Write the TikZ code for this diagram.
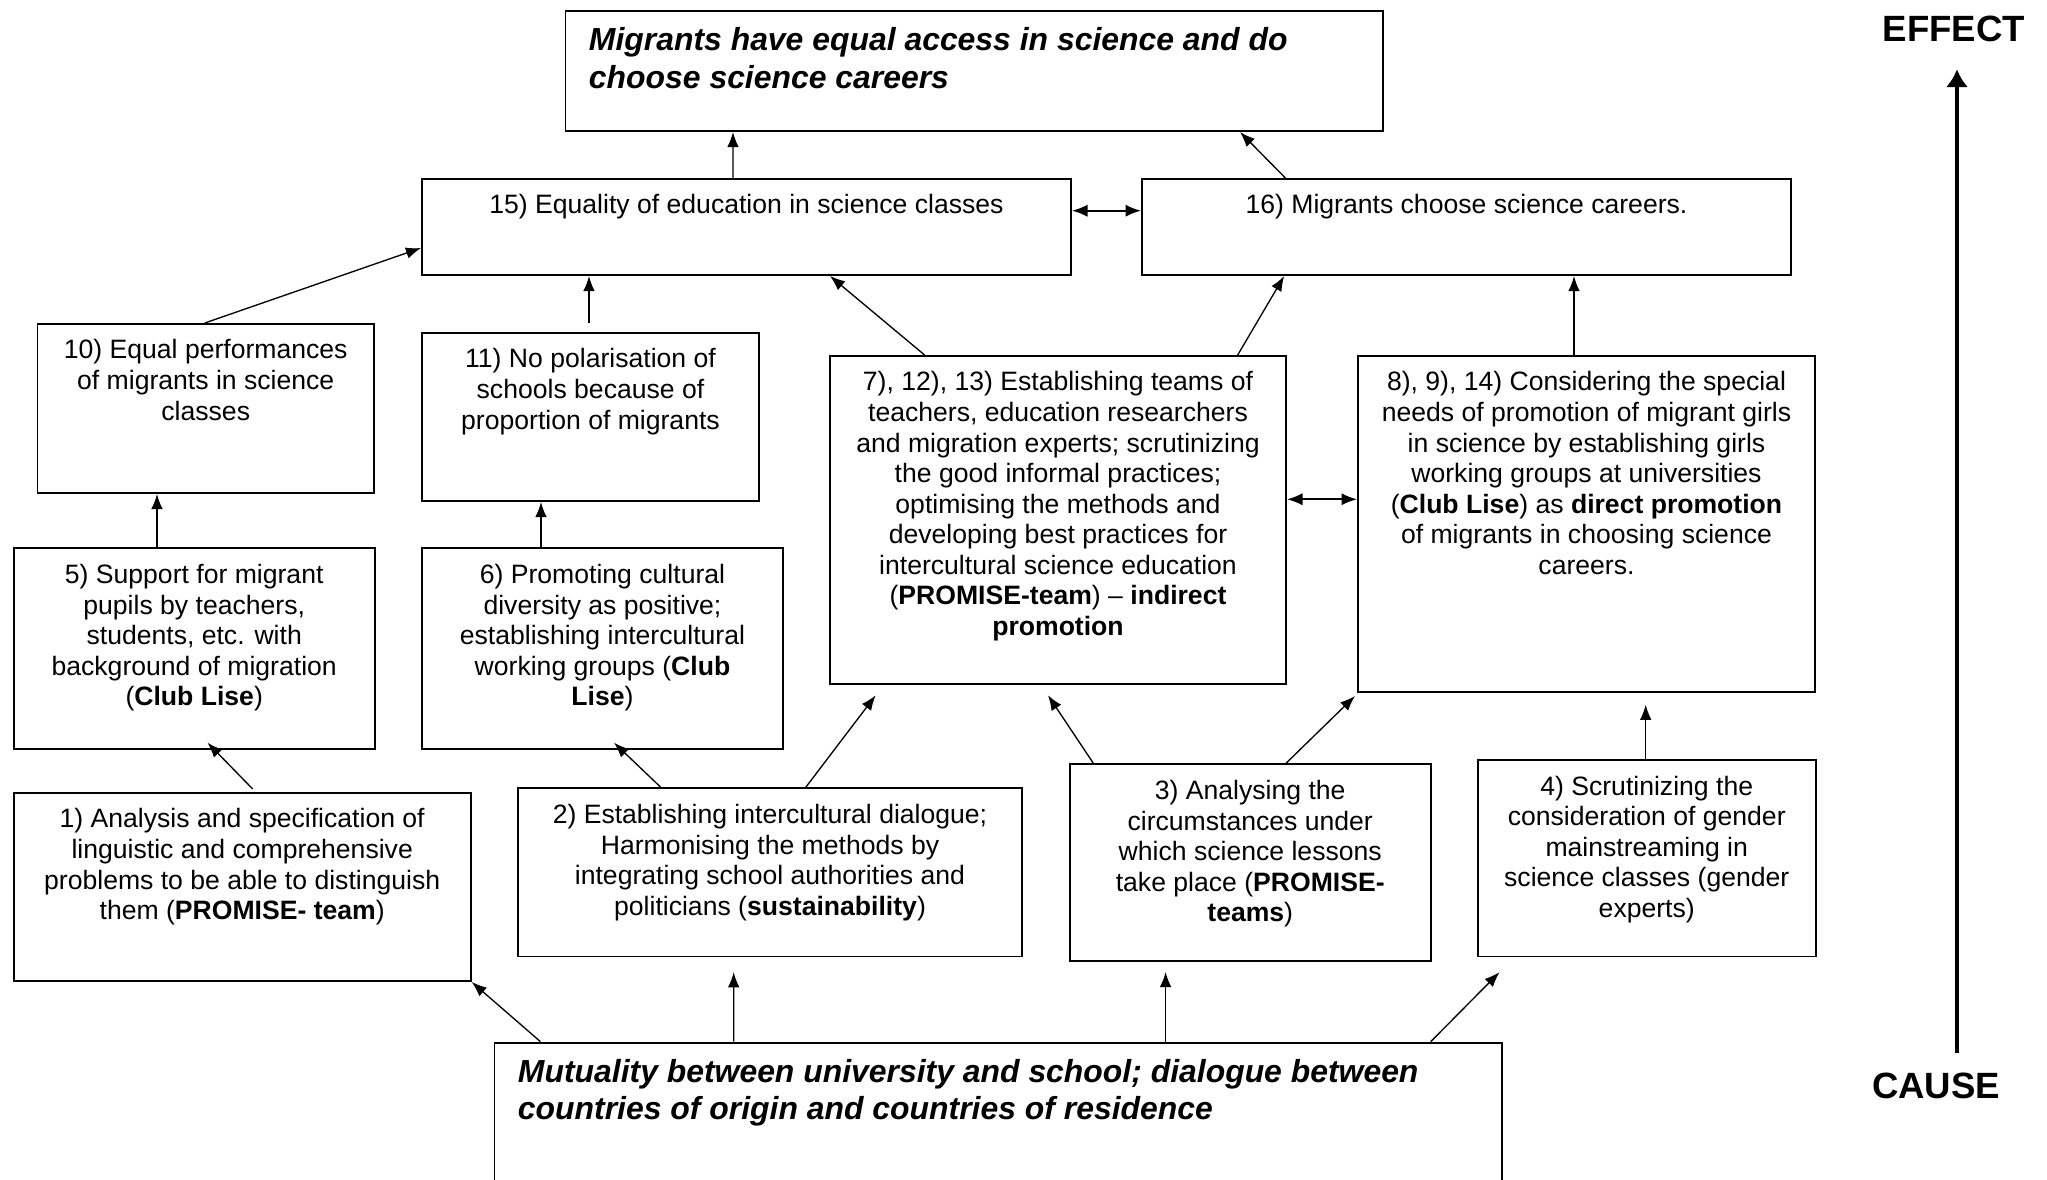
\documentclass[tikz,border=0pt]{standalone}
\usepackage{fontspec}
\setmainfont{Liberation Sans}
\usetikzlibrary{arrows.meta,calc}

\newdimen\px \px=0.4514pt
\newcommand{\boxtext}[3]{\parbox[c][#2][t]{#1}{\centering\rule{0pt}{15.8pt}#3}}
\newcommand{\headtext}[3]{\parbox[c][#2][t]{#1}{\raggedright\leftskip=23.5\px\rule{0pt}{18pt}#3}}

\begin{document}
\begin{tikzpicture}[x=0.4514pt,y=-0.4514pt,>={Latex[length=6.8pt,width=5.2pt]},semithick]
  \tikzstyle{box}=[draw,line width=0.9pt,inner sep=0pt,anchor=north west,font=\fontsize{12pt}{13.8pt}\selectfont]
  \tikzstyle{head}=[box,font=\fontsize{14.4pt}{16.85pt}\selectfont\bfseries\itshape]
  \tikzstyle{axis}=[inner sep=0pt,anchor=base west,font=\fontsize{16.5pt}{19pt}\selectfont\bfseries]

  \fill[white] (0,0) rectangle (2047,1180);
  \useasboundingbox (0,0) rectangle (2047,1180);

  \node[head] (Goal) at (564.5,10)   {\headtext{817\px}{120\px}{Migrants have equal access in science and do\\ choose science careers}};
  \node[box]  (N15)  at (421,178)    {\boxtext{649\px}{96\px}{15) Equality of education in science classes}};
  \node[box]  (N16)  at (1141,178)   {\boxtext{649\px}{96\px}{16) Migrants choose science careers.}};
  \node[box]  (N10)  at (36.5,323)   {\boxtext{336.5\px}{169\px}{10) Equal performances\\ of migrants in science\\ classes}};
  \node[box]  (N11)  at (421,332)    {\boxtext{337\px}{168\px}{11) No polarisation of\\ schools because of\\ proportion of migrants}};
  \node[box]  (N7)   at (829,355)    {\boxtext{456\px}{328\px}{7), 12), 13) Establishing teams of\\ teachers, education researchers\\ and migration experts; scrutinizing\\ the good informal practices;\\ optimising the methods and\\ developing best practices for\\ intercultural science education\\ (\textbf{PROMISE-team}) -- \textbf{indirect\\ promotion}}};
  \node[box]  (N8)   at (1357,355)   {\boxtext{457\px}{336\px}{8), 9), 14) Considering the special\\ needs of promotion of migrant girls\\ in science by establishing girls\\ working groups at universities\\ (\textbf{Club Lise}) as \textbf{direct promotion}\\ of migrants in choosing science\\ careers.}};
  \node[box]  (N5)   at (12.7,547.5) {\boxtext{361\px}{200.5\px}{5) Support for migrant\\ pupils by teachers,\\ students, etc. with\\ background of migration\\ (\textbf{Club Lise})}};
  \node[box]  (N6)   at (421,547.5)  {\boxtext{361\px}{200.5\px}{6) Promoting cultural\\ diversity as positive;\\ establishing intercultural\\ working groups (\textbf{Club\\ Lise})}};
  \node[box]  (N1)   at (12.7,792)   {\boxtext{457\px}{188\px}{1) Analysis and specification of\\ linguistic and comprehensive\\ problems to be able to distinguish\\ them (\textbf{PROMISE- team})}};
  \node[box]  (N2)   at (517,787.5)  {\boxtext{504\px}{168\px}{2) Establishing intercultural dialogue;\\ Harmonising the methods by\\ integrating school authorities and\\ politicians (\textbf{sustainability})}};
  \node[box]  (N3)   at (1069,763.5) {\boxtext{360.5\px}{196.5\px}{3) Analysing the\\ circumstances under\\ which science lessons\\ take place (\textbf{PROMISE-\\ teams})}};
  \node[box]  (N4)   at (1477,759)   {\boxtext{337.5\px}{196.5\px}{4) Scrutinizing the\\ consideration of gender\\ mainstreaming in\\ science classes (gender\\ experts)}};
  \node[head] (Base) at (493.5,1041.7) {\headtext{1007.5\px}{170\px}{Mutuality between university and school; dialogue between\\ countries of origin and countries of residence}};

  \node[axis] (Effect) at (1882,41.7)    {EFFECT};
  \node[axis] (Cause)  at (1871.4,1098.3) {CAUSE};
  \coordinate (ArrowFoot) at (1957,1052.7);
  \coordinate (ArrowTip)  at (1957,69.3);
  \draw[->,line width=2pt,>={Latex[length=8pt,width=10pt]}] (ArrowFoot) -- (ArrowTip);

  \path[->] ($(N15.north west)+(312,0)$)     edge ($(Goal.south west)+(168.5,0)$)
            ($(N16.north west)+(144.4,0)$)   edge ($(Goal.south west)+(675.5,0)$)
            ($(N10.north west)+(168.3,0)$)   edge ($(N15.north west)+(0,70)$)
            ($(N11.north west)+(168,-9)$)    edge ($(N15.south west)+(168,0)$)
            ($(N7.north west)+(95.6,0)$)     edge ($(N15.south west)+(409,0)$)
            ($(N7.north west)+(408.7,0)$)    edge ($(N16.south west)+(143.2,0)$)
            ($(N8.north west)+(217,0)$)      edge ($(N16.south west)+(433,0)$)
            ($(N5.north west)+(144.3,0)$)    edge ($(N10.south west)+(120.5,0)$)
            ($(N6.north west)+(120,0)$)      edge ($(N11.south west)+(120,0)$)
            ($(N1.north west)+(240,-3)$)     edge ($(N5.south west)+(194.8,-7.3)$)
            ($(N2.north west)+(144,0)$)      edge ($(N6.south west)+(193,-7.3)$)
            ($(N2.north west)+(288.6,0)$)    edge ($(N7.south west)+(46.7,10.3)$)
            ($(N3.north west)+(24.5,0)$)     edge ($(N7.south west)+(219,10.3)$)
            ($(N3.north west)+(216.8,0)$)    edge ($(N8.south west)+(-2,3)$)
            ($(N4.north west)+(168.7,0)$)    edge ($(N8.south west)+(288.7,11.7)$)
            ($(Base.north west)+(47,0)$)     edge (N1.south east)
            ($(Base.north west)+(240.2,0)$)  edge ($(N2.south west)+(216.7,14.7)$)
            ($(Base.north west)+(672.1,0)$)  edge ($(N3.south west)+(96.6,10)$)
            ($(Base.north west)+(937.2,0)$)  edge ($(N4.south west)+(22.5,14.7)$);

  \path[<->,thick,>={Latex[length=7pt,width=5.5pt]}]
            ($(N15.north east)+(0,32.7)$)    edge ($(N16.north west)+(0,32.7)$)
            ($(N7.north east)+(0,144.3)$)    edge ($(N8.north west)+(0,144.3)$);
\end{tikzpicture}
\end{document}
